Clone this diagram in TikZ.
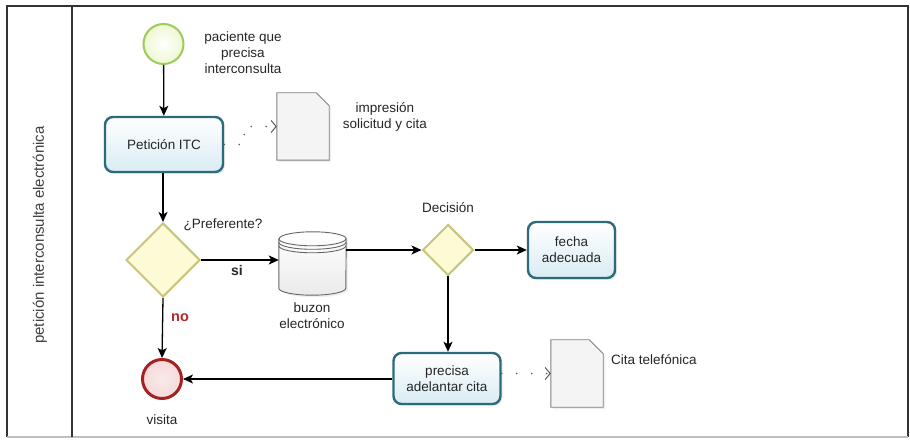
\documentclass[tikz,border=0pt]{standalone}
\usepackage{fontspec}
\setmainfont{Liberation Sans}
\usetikzlibrary{shapes.geometric,arrows.meta,shadows,calc}
\definecolor{taskborder}{HTML}{2E6B7A}
\definecolor{taskfill}{HTML}{D9ECF4}
\definecolor{gwborder}{HTML}{C9C47C}
\definecolor{gwfill}{HTML}{FCFBD6}
\definecolor{startborder}{HTML}{9FCB5C}
\definecolor{startfill}{HTML}{EEF8D2}
\definecolor{endborder}{HTML}{A52222}
\definecolor{endfill}{HTML}{F6DADA}
\definecolor{nored}{HTML}{B22A2A}
\definecolor{docfill}{HTML}{F4F4F4}
\newcommand\docdraw[2]{%
  \draw[docline] (#1.south west) -- (#1.north west) -- ([xshift=-#2pt]#1.north east) -- ([yshift=-#2pt]#1.north east) -- (#1.south east) -- cycle;}
\begin{document}
\begin{tikzpicture}[x=1pt,y=-1pt,
  txt/.style={font=\fontsize{13.5}{16}\selectfont, align=center, text=black!85, inner sep=0pt},
  task/.style={txt, rectangle, rounded corners=8pt, draw=taskborder, line width=2.4pt,
    top color=white, bottom color=taskfill,
    drop shadow={shadow xshift=2pt, shadow yshift=-2pt, opacity=0.15}},
  gateway/.style={diamond, aspect=1, inner sep=0pt, draw=gwborder, line width=2pt, fill=gwfill},
  startev/.style={circle, inner sep=0pt, minimum size=40pt, draw=startborder, line width=2pt, inner color=white, outer color=startfill},
  endev/.style={circle, inner sep=0pt, minimum size=39pt, draw=endborder, line width=3pt, inner color=endfill!60, outer color=endfill},
  docnode/.style={rectangle, inner sep=0pt, draw=none},
  docline/.style={draw=black!50, line width=0.9pt, fill=docfill,
    drop shadow={shadow xshift=2pt, shadow yshift=-2pt, opacity=0.12}},
  cyl/.style={draw=black!60, line width=0.9pt},
  flow/.style={draw=black, line width=1.3pt, -{Stealth[length=10pt,width=9pt,inset=2.5pt]}},
  assoc/.style={draw=black!65, line width=1.8pt, line cap=round, dash pattern=on 0pt off 15pt,
    -{Straight Barb[length=5pt,width=12pt,line width=1pt]}},
  frame/.style={draw=black!80, line width=1.3pt}
]
\useasboundingbox (0,0) rectangle (910,443);
\fill[white] (0,0) rectangle (910,443);

% pool frame
\draw[frame] (7,437) -- (7,6) -- (908,6) -- (908,437);
\draw[black!25, line width=1.3pt] (7,437) -- (908,437);
\draw[frame] (72,6) -- (72,437);
\node[txt, rotate=90, text=black!75, font=\fontsize{15}{18}\selectfont] (lane) at (40,235) {petición interconsulta electrónica};

% start
\node[startev] (start) at (163.5,44) {};
\node[txt] (startlbl) at (243,53) {paciente que\\precisa\\interconsulta};

% Peticion ITC
\node[task, minimum width=118pt, minimum height=55pt] (itc) at (164,144.5) {Petición ITC};

% doc 1
\node[docnode, minimum width=52pt, minimum height=67pt] (doc1) at (303,126.5) {};
\docdraw{doc1}{13}
\node[txt] (doc1lbl) at (385,116.5) {impresión\\solicitud y cita};

% gateway 1
\node[gateway, minimum width=74pt, minimum height=74pt] (gw1) at (163,260) {};
\node[txt] (preflbl) at (223,225) {¿Preferente?};
\node[txt, font=\fontsize{14}{16}\selectfont\bfseries] (silbl) at (237,270) {si};
\node[txt, font=\fontsize{14.5}{16}\selectfont\bfseries, text=nored] (nolbl) at (180,318) {no};

% database
\node[docnode, minimum width=67pt, minimum height=63pt] (buzon) at (312.5,263.5) {};
\draw[cyl, top color=white, bottom color=black!8, drop shadow={shadow xshift=2pt, shadow yshift=-2pt, opacity=0.12}]
  ($(buzon.north west)+(0,7)$) -- ($(buzon.south west)+(0,-7)$)
  arc[start angle=180, end angle=360, x radius=33.5pt, y radius=7pt]
  -- ($(buzon.north east)+(0,7)$)
  arc[start angle=0, end angle=180, x radius=33.5pt, y radius=7pt] -- cycle;
\draw[cyl] ($(buzon.north west)+(0,7)$) arc[start angle=180, end angle=360, x radius=33.5pt, y radius=7pt];
\draw[cyl] ($(buzon.north west)+(0,10.5)$) arc[start angle=180, end angle=360, x radius=33.5pt, y radius=7pt];
\draw[cyl] ($(buzon.north west)+(0,14)$) arc[start angle=180, end angle=360, x radius=33.5pt, y radius=7pt];
\node[txt] (buzonlbl) at (312,315.5) {buzon\\electrónico};

% gateway 2
\node[gateway, minimum width=51pt, minimum height=51pt] (gw2) at (448,250) {};
\node[txt] (declbl) at (448,208) {Decisión};

% fecha adecuada
\node[task, minimum width=87pt, minimum height=56pt] (fecha) at (571.5,250) {fecha\\adecuada};

% precisa adelantar cita
\node[task, minimum width=107pt, minimum height=51pt] (precisa) at (447,378.5) {precisa\\adelantar cita};

% doc 2
\node[docnode, minimum width=52pt, minimum height=67pt] (doc2) at (577,373.5) {};
\docdraw{doc2}{14}
\node[txt, anchor=west] (doc2lbl) at (611,360) {Cita telefónica};

% end
\node[endev] (visita) at (162,379) {};
\node[txt] (visitalbl) at (162,420) {visita};

% flows
\coordinate (bout) at (buzon.east |- gw2.west);
\draw[flow] (start) -- (itc);
\draw[flow] (itc.south -| gw1.north) -- (gw1.north);
\draw[flow] (gw1.east) -- (gw1.east -| buzon.west);
\draw[flow] (bout) -- (gw2.west);
\draw[flow] (gw2.east) -- (fecha.west);
\draw[flow] (gw2.south) -- (gw2.south |- precisa.north);
\draw[flow] (gw1.south) -- (visita.north);
\draw[flow] (precisa.west |- visita.east) -- (visita.east);

% associations
\draw[assoc] (itc.east) -- ++(20,0) |- (doc1.west);
\draw[assoc] (precisa.east |- doc2.west) -- (doc2.west);
\end{tikzpicture}
\end{document}
